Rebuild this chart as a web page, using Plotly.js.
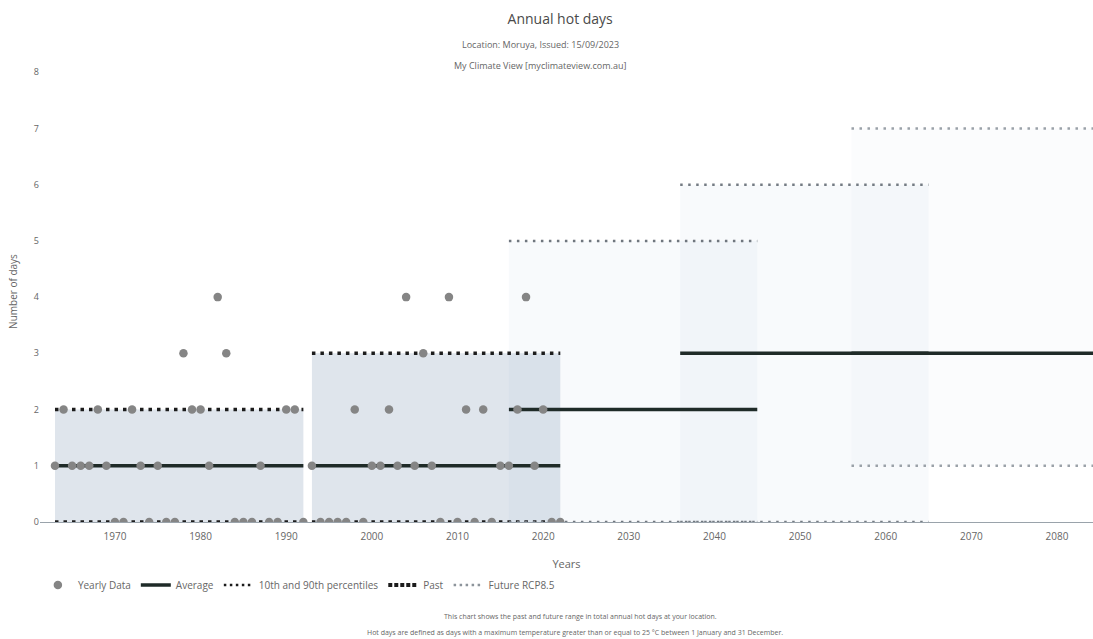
<!DOCTYPE html>
<html>
<head>
<meta charset="utf-8">
<script src="https://cdn.plot.ly/plotly-3.0.1.min.js"></script>
<style>html,body{margin:0;padding:0;background:#fff;overflow:hidden}#chart{width:1093px;height:639px}</style>
</head>
<body>
<div id="chart"></div>
<script>
// ---- Yearly observations (annual hot days) ----
var years = [1963,1964,1965,1966,1967,1968,1969,1970,1971,1972,1973,1974,1975,1976,1977,1978,1979,1980,1981,1982,
             1983,1984,1985,1986,1987,1988,1989,1990,1991,1992,1993,1994,1995,1996,1997,1998,1999,2000,2001,2002,
             2003,2004,2005,2006,2007,2008,2009,2010,2011,2012,2013,2014,2015,2016,2017,2018,2019,2020,2021,2022];
var hotDays = [1,2,1,1,1,2,1,0,0,2,1,0,1,0,0,3,2,2,1,4,
               3,0,0,0,1,0,0,2,2,0,1,0,0,0,0,2,0,1,1,2,
               1,4,1,3,1,0,4,0,2,0,2,0,1,1,2,4,1,2,0,0];

// ---- 30-year periods ----
var periodType  = ['past','past','future','future','future'];
var periodStart = [1963, 1993, 2016, 2036, 2056];
var periodEnd   = [1992, 2022, 2045, 2065, 2085];
var pct10       = [0, 0, 0, 0, 1];
var pct90       = [2, 3, 5, 6, 7];
var periodAvg   = [1, 1, 2, 3, 3];

// ---- text ----
var titleText = 'Annual hot days';
var subtitle1 = 'Location: Moruya, Issued: 15/09/2023';
var subtitle2 = 'My Climate View [myclimateview.com.au]';
var note1 = 'This chart shows the past and future range in total annual hot days at your location.';
var note2 = 'Hot days are defined as days with a maximum temperature greater than or equal to 25 °C between 1 January and 31 December.';

var fillColors   = ['rgba(110,135,170,0.22)','rgba(110,135,170,0.22)','rgba(120,150,190,0.05)','rgba(120,150,190,0.05)','rgba(120,150,190,0.03)'];
var pctColors    = ['#1c1c1c','#1c1c1c','#6f767e','#747b83','#9aa1a8'];
var avgColor = '#1f2b28';

var traces = [];
// filled ranges
for (var i = 0; i < periodStart.length; i++) {
  traces.push({
    type: 'scatter', mode: 'lines', hoverinfo: 'skip', showlegend: false,
    x: [periodStart[i], periodEnd[i], periodEnd[i], periodStart[i], periodStart[i]],
    y: [pct10[i], pct10[i], pct90[i], pct90[i], pct10[i]],
    fill: 'toself', fillcolor: fillColors[i], line: {width: 0}
  });
}
// percentile lines
for (var i = 0; i < periodStart.length; i++) {
  var past = periodType[i] === 'past';
  var ln = {color: pctColors[i], width: past ? 3.5 : 2.5, dash: past ? '3.5px,5px' : '2.5px,5.5px'};
  traces.push({type:'scatter', mode:'lines', showlegend:false, x:[periodStart[i], periodEnd[i]], y:[pct90[i], pct90[i]], line: ln});
  traces.push({type:'scatter', mode:'lines', showlegend:false, x:[periodStart[i], periodEnd[i]], y:[pct10[i], pct10[i]], line: ln});
}
// averages
for (var i = 0; i < periodStart.length; i++) {
  traces.push({type:'scatter', mode:'lines', name:'Average', legendgroup:'avg', legendrank:2,
    showlegend: i === 0, x:[periodStart[i], periodEnd[i]], y:[periodAvg[i], periodAvg[i]],
    line:{color: avgColor, width: 3.5}});
}
// yearly data
traces.push({type:'scatter', mode:'markers', name:'Yearly Data', legendrank:1, x: years, y: hotDays,
  marker:{color:'#858585', size:8.5}});
// legend-only entries
traces.push({type:'scatter', mode:'lines', name:'10th and 90th percentiles', legendrank:3, x:[null], y:[null],
  line:{color:'#1c1c1c', width:2.5, dash:'2.5px,3.5px'}});
traces.push({type:'scatter', mode:'lines', name:'Past', legendrank:4, x:[null], y:[null],
  line:{color:'#1c1c1c', width:4, dash:'4px,2px'}});
traces.push({type:'scatter', mode:'lines', name:'Future RCP8.5', legendrank:5, x:[null], y:[null],
  line:{color:'#8d949b', width:2.5, dash:'2.5px,3.5px'}});

var gray = '#666';
var layout = {
  width: 1093, height: 639,
  margin: {l: 40, r: 0, t: 61, b: 117},
  paper_bgcolor: '#fff', plot_bgcolor: '#fff',
  font: {family: '"Open Sans", "DejaVu Sans", sans-serif', size: 10, color: gray},
  title: {text: titleText, x: 0.494, xref: 'paper', xanchor: 'center', y: 0.970, yref: 'container', yanchor: 'middle',
          font: {size: 14, color: '#4a4a4a'}},
  xaxis: {range: [1961.25, 2084.2], tickmode: 'linear', tick0: 1970, dtick: 10, showgrid: false,
          zeroline: false, showline: true, linecolor: '#9aa3ab', linewidth: 1, ticks: '', ticklabelstandoff: 5,
          tickfont: {size: 10, color: gray},
          title: {text: 'Years', font: {size: 11, color: gray}, standoff: 18}},
  yaxis: {range: [0, 8.2], tickmode: 'linear', tick0: 0, dtick: 1, showgrid: false,
          zeroline: false, showline: false, ticks: '', tickfont: {size: 9, color: gray},
          title: {text: 'Number of days', font: {size: 10, color: gray}, standoff: 14}},
  legend: {orientation: 'h', x: -0.002, xanchor: 'left', y: -0.105, yanchor: 'top', font: {size: 10, color: gray},
           traceorder: 'normal', itemwidth: 30},
  showlegend: true,
  annotations: [
    {text: subtitle1, xref: 'paper', yref: 'paper', x: 0.475, y: 1.035, xanchor: 'center', yanchor: 'middle', showarrow: false, font: {size: 9, color: gray}},
    {text: subtitle2, xref: 'paper', yref: 'paper', x: 0.475, y: 0.991, xanchor: 'center', yanchor: 'middle', showarrow: false, font: {size: 9, color: gray}},
    {text: note1, xref: 'paper', yref: 'paper', x: 0.513, y: -0.206, xanchor: 'center', yanchor: 'middle', showarrow: false, font: {size: 7, color: gray}},
    {text: note2, xref: 'paper', yref: 'paper', x: 0.508, y: -0.239, xanchor: 'center', yanchor: 'middle', showarrow: false, font: {size: 7, color: gray}}
  ]
};

Plotly.newPlot('chart', traces, layout, {displayModeBar: false, responsive: false});
</script>
</body>
</html>
